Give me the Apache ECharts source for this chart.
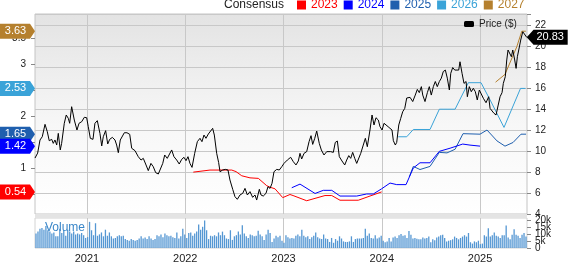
<!DOCTYPE html>
<html>
<head>
<meta charset="utf-8">
<script src="https://cdn.jsdelivr.net/npm/echarts@6.0.0/dist/echarts.min.js"></script>
<style>html,body{margin:0;padding:0;background:#fff;}#c{width:568px;height:264px;}</style>
</head>
<body>
<div id="c"></div>
<script>
// ---- data (x in decimal years) ----
const X_MIN = 2020.471, X_MAX = 2025.478;
const yearTicks = [2021, 2022, 2023, 2024, 2025];
const epsTicks = [0.5, 1, 1.5, 2, 2.5, 3, 3.5];
const volumeTicksA = [0, 10, 20];
const volumeTicksB = [5, 15];

const price = [[2020.471,9.33],[2020.498,9.8],[2020.522,11.05],[2020.545,11.36],[2020.573,12.54],[2020.596,11.84],[2020.616,10.98],[2020.641,11.11],[2020.657,10.73],[2020.674,11.05],[2020.692,10.57],[2020.708,11.68],[2020.728,10.1],[2020.742,10.73],[2020.769,12.64],[2020.789,13.43],[2020.810,13.11],[2020.824,12.64],[2020.844,14.22],[2020.871,12.95],[2020.898,12.0],[2020.919,12.64],[2020.946,12.79],[2020.973,13.21],[2020.997,13.17],[2021.013,12.32],[2021.034,11.21],[2021.061,11.11],[2021.081,12.64],[2021.105,12.89],[2021.132,11.68],[2021.150,10.48],[2021.166,11.36],[2021.190,11.94],[2021.211,10.67],[2021.231,11.11],[2021.258,11.30],[2021.285,11.05],[2021.302,10.57],[2021.319,9.84],[2021.339,11.05],[2021.359,11.11],[2021.380,11.74],[2021.407,11.74],[2021.435,11.59],[2021.455,10.26],[2021.489,10.03],[2021.522,9.46],[2021.550,9.14],[2021.573,9.30],[2021.597,8.76],[2021.624,8.13],[2021.651,8.82],[2021.675,8.50],[2021.699,7.94],[2021.726,7.81],[2021.746,7.71],[2021.771,8.82],[2021.791,9.62],[2021.817,9.30],[2021.862,10.1],[2021.885,9.46],[2021.913,9.14],[2021.939,8.76],[2021.964,9.21],[2021.987,9.40],[2022.008,9.08],[2022.028,9.46],[2022.048,8.82],[2022.069,8.44],[2022.096,9.78],[2022.123,10.89],[2022.150,11.21],[2022.170,10.89],[2022.191,11.52],[2022.211,11.21],[2022.235,11.62],[2022.252,11.43],[2022.279,12.16],[2022.296,11.52],[2022.320,9.78],[2022.340,8.90],[2022.354,8.03],[2022.381,8.19],[2022.408,8.25],[2022.435,8.19],[2022.455,7.24],[2022.483,6.35],[2022.506,5.65],[2022.530,5.40],[2022.557,5.81],[2022.585,5.97],[2022.608,6.44],[2022.632,5.81],[2022.659,6.13],[2022.686,5.59],[2022.710,5.81],[2022.727,5.33],[2022.754,6.35],[2022.771,5.81],[2022.794,5.71],[2022.822,5.97],[2022.842,6.60],[2022.863,6.44],[2022.883,6.92],[2022.903,8.03],[2022.931,8.25],[2022.957,8.19],[2022.982,8.50],[2023.005,8.82],[2023.039,9.14],[2023.073,9.40],[2023.100,8.98],[2023.127,8.67],[2023.151,9.05],[2023.168,9.78],[2023.185,9.24],[2023.209,9.78],[2023.236,9.94],[2023.260,10.89],[2023.280,11.46],[2023.297,10.63],[2023.318,11.21],[2023.338,11.90],[2023.364,10.73],[2023.385,10.1],[2023.412,9.62],[2023.440,9.94],[2023.460,9.84],[2023.480,9.94],[2023.507,9.87],[2023.527,10.82],[2023.548,10.95],[2023.568,9.46],[2023.595,9.05],[2023.623,8.67],[2023.643,9.14],[2023.664,9.56],[2023.684,9.30],[2023.704,9.87],[2023.725,9.30],[2023.745,8.82],[2023.765,8.98],[2023.786,9.78],[2023.812,10.57],[2023.833,11.21],[2023.853,10.41],[2023.880,12.0],[2023.901,13.43],[2023.921,12.48],[2023.941,13.17],[2023.965,12.95],[2023.982,12.32],[2024.003,12.0],[2024.023,12.64],[2024.043,12.48],[2024.064,12.32],[2024.084,12.16],[2024.104,12.0],[2024.118,10.98],[2024.138,10.57],[2024.152,10.82],[2024.173,12.48],[2024.193,13.11],[2024.213,13.74],[2024.234,14.06],[2024.254,15.05],[2024.288,15.11],[2024.315,14.71],[2024.341,15.33],[2024.362,15.87],[2024.382,15.56],[2024.403,16.13],[2024.417,15.33],[2024.440,14.71],[2024.464,15.56],[2024.484,16.13],[2024.504,15.33],[2024.525,16.13],[2024.545,16.62],[2024.565,16.13],[2024.586,16.62],[2024.606,16.94],[2024.626,17.57],[2024.647,17.71],[2024.667,16.94],[2024.688,15.81],[2024.702,17.40],[2024.722,17.95],[2024.743,17.71],[2024.763,17.87],[2024.783,17.71],[2024.796,18.5],[2024.817,17.40],[2024.837,16.44],[2024.858,16.62],[2024.871,15.17],[2024.891,16.13],[2024.911,15.65],[2024.932,15.97],[2024.952,15.65],[2024.972,14.86],[2024.993,15.81],[2025.013,15.65],[2025.034,15.02],[2025.048,15.17],[2025.061,14.6],[2025.074,14.71],[2025.088,15.17],[2025.102,14.06],[2025.122,14.22],[2025.142,13.59],[2025.163,13.43],[2025.183,14.29],[2025.204,15.17],[2025.224,15.56],[2025.237,16.44],[2025.257,17.08],[2025.272,18.67],[2025.285,19.62],[2025.305,19.78],[2025.319,18.98],[2025.333,19.62],[2025.353,18.67],[2025.367,17.87],[2025.380,18.98],[2025.394,19.62],[2025.414,20.57],[2025.435,21.36],[2025.455,21.21],[2025.475,20.83]];

const eps2023 = [[2022.082,0.92],[2022.252,0.96],[2022.473,0.96],[2022.517,0.93],[2022.575,0.85],[2022.659,0.81],[2022.744,0.80],[2022.829,0.66],[2022.863,0.63],[2022.913,0.60],[2022.992,0.43],[2023.066,0.49],[2023.097,0.47],[2023.236,0.37],[2023.422,0.47],[2023.491,0.47],[2023.575,0.38],[2023.761,0.38],[2023.880,0.46],[2023.999,0.54]];
const eps2024 = [[2023.084,0.62],[2023.168,0.69],[2023.321,0.51],[2023.405,0.57],[2023.491,0.57],[2023.575,0.46],[2023.745,0.46],[2023.847,0.50],[2023.914,0.50],[2023.999,0.60],[2024.084,0.71],[2024.152,0.68],[2024.247,0.68],[2024.321,1.0],[2024.389,1.10],[2024.491,1.10],[2024.586,1.32],[2024.695,1.38],[2024.824,1.46],[2024.898,1.44],[2025.0,1.42]];
const eps2025 = [[2024.280,0.83],[2024.321,1.03],[2024.389,0.97],[2024.491,1.03],[2024.586,1.30],[2024.664,1.29],[2024.746,1.36],[2024.827,1.66],[2025.0,1.65],[2025.071,1.73],[2025.173,1.52],[2025.254,1.42],[2025.336,1.49],[2025.417,1.65],[2025.468,1.65]];
const eps2026 = [[2024.168,1.60],[2024.254,1.60],[2024.321,1.74],[2024.491,1.74],[2024.586,2.13],[2024.746,2.13],[2024.881,2.64],[2025.010,2.64],[2025.102,2.31],[2025.244,1.78],[2025.412,2.53],[2025.463,2.53]];
const eps2027 = [[2025.158,2.65],[2025.254,2.80],[2025.374,3.33],[2025.425,3.63],[2025.466,3.63]];

// weekly volume, thousands of shares
const volumeK = [10.5,11.9,13.9,14.5,13.3,16.0,12.9,11.9,10.5,11.3,8.5,8.5,13.9,10.9,12.9,8.9,13.3,11.9,10.5,11.9,9.9,10.5,9.9,10.9,9.3,7.3,7.9,19.0,12.9,9.3,18.0,8.9,9.9,11.3,8.5,13.3,8.9,11.3,8.5,6.9,7.3,8.5,9.3,8.5,8.9,6.5,5.9,5.3,6.5,5.9,5.3,5.9,6.9,8.5,6.9,7.7,6.5,8.5,6.9,5.9,6.5,9.3,8.5,9.9,7.9,10.5,9.3,8.5,8.9,7.9,7.3,11.3,6.9,8.5,13.9,9.9,7.3,10.9,11.3,8.9,10.5,11.9,17.0,
13.3,15.4,20.0,12.9,6.5,8.9,8.5,9.3,8.5,11.3,9.3,11.9,9.3,6.9,6.5,12.9,5.9,8.5,9.3,11.9,9.9,16.6,10.5,8.5,7.3,9.9,9.3,8.5,8.9,12.5,9.9,8.5,5.9,9.9,13.3,10.9,4.4,6.9,8.9,7.9,8.9,5.3,3.8,9.3,7.9,6.9,7.3,6.9,8.9,9.9,8.5,13.3,8.9,7.9,8.5,6.5,7.9,8.9,11.3,7.9,6.9,6.5,9.9,6.9,6.5,4.4,7.3,3.8,6.5,5.3,8.5,6.9,4.8,4.4,4.4,4.8,8.5,4.4,6.5,6.9,6.9,6.9,
7.3,13.9,8.9,10.5,7.3,6.9,9.3,6.9,7.7,
8.9,5.3,4.2,4.8,7.3,4.8,7.7,8.3,7.3,9.3,10.1,8.9,9.3,7.3,12.3,9.7,6.9,7.3,6.7,6.3,6.3,7.7,6.9,7.3,8.3,4.2,6.3,5.7,7.7,8.3,9.3,9.7,7.3,4.8,5.3,5.7,6.3,8.3,7.3,6.3,7.3,8.3,9.3,8.3,10.9,4.2,3.2,4.8,4.2,5.3,2.8,3.2,9.3,8.3,14.3,8.3,9.3,11.3,8.9,8.3,7.3,9.3,9.3,16.4,7.7,6.3,9.7,13.7,9.7,8.9,7.3,9.7,10.9,8.3];

// ---- layout / style ----
const FONT = "'Liberation Sans', Arial, sans-serif";
const G = {left: 35, right: 41, top: 14, h: 200, vTop: 218, vH: 36};
const VOL_MAX = 21.8;
const COLORS = {y2023: '#ff0000', y2024: '#0000ff', y2025: '#1f5fae', y2026: '#3aa3d8', y2027: '#b5802e'};

const volStep = (X_MAX - X_MIN) / volumeK.length;
const volData = volumeK.map((v, i) => [X_MIN + (i + 0.5) * volStep, v]);

function epsSeries(name, data, color, z) {
  const last = data[data.length - 1][1];
  return {
    name: name, type: 'line', xAxisIndex: 0, yAxisIndex: 0, data: data,
    symbol: 'none', showSymbol: false, z: z, animation: false,
    lineStyle: {color: color, width: 1}, itemStyle: {color: color},
    markPoint: {
      silent: true, animation: false,
      symbol: 'path://M0,0L30,0L35,7.5L30,15L0,15Z',
      symbolSize: [35, 15], symbolOffset: [-17.5, 0],
      itemStyle: {color: color},
      label: {show: true, position: 'inside', color: '#fff', fontSize: 11, fontFamily: FONT,
        offset: [-2, 0], formatter: p => Number(p.value).toFixed(2)},
      data: [{coord: [X_MIN, last], value: last}]
    }
  };
}

function volumeAxis(ticks, withTicks) {
  return {type: 'value', gridIndex: 1, position: 'right', min: 0, max: VOL_MAX,
    axisLine: {show: false}, splitLine: {show: false},
    axisTick: {show: withTicks, length: 4, customValues: volumeTicksA.concat(volumeTicksB), lineStyle: {color: '#888'}},
    axisLabel: {customValues: ticks, showMinLabel: true, showMaxLabel: true, hideOverlap: false,
      fontSize: 10, color: '#222', margin: 8, fontFamily: FONT,
      formatter: v => (v === 0 ? '0' : v + 'k')}};
}

const lastPrice = price[price.length - 1];

const chart = echarts.init(document.getElementById('c'), null, {renderer: 'canvas', width: 568, height: 264});
chart.setOption({
  animation: false,
  backgroundColor: '#fff',
  textStyle: {fontFamily: FONT},
  title: [
    {text: 'Consensus', left: 224, top: -1, padding: 0,
      textStyle: {fontSize: 12, fontWeight: 'normal', color: '#222', fontFamily: FONT}},
    {text: 'Volume', left: 45, top: 222, padding: 0, z: 8,
      textStyle: {fontSize: 12, fontWeight: 'normal', color: '#3a86c8', fontFamily: FONT}}
  ],
  legend: [
    {data: [
        {name: '2023', textStyle: {color: COLORS.y2023}},
        {name: '2024', textStyle: {color: COLORS.y2024}},
        {name: '2025', textStyle: {color: COLORS.y2025}},
        {name: '2026', textStyle: {color: COLORS.y2026}},
        {name: '2027', textStyle: {color: COLORS.y2027}}
      ],
      left: 297, top: -1, padding: 0, icon: 'rect', itemWidth: 9, itemHeight: 9, itemGap: 6,
      selectedMode: false, textStyle: {fontSize: 12, fontFamily: FONT}},
    {data: ['Price ($)'], left: 464, top: 19, padding: 0, icon: 'roundRect', itemWidth: 10, itemHeight: 6,
      selectedMode: false, textStyle: {fontSize: 10, color: '#222', fontFamily: FONT}}
  ],
  grid: [
    {left: G.left, right: G.right, top: G.top, height: G.h, show: true, borderColor: '#c4c4c4', borderWidth: 1,
      backgroundColor: {type: 'linear', x: 0, y: 0, x2: 0, y2: 1,
        colorStops: [{offset: 0, color: '#e3e3e3'}, {offset: 0.55, color: '#f7f7f7'}, {offset: 1, color: '#ffffff'}]}},
    {left: G.left, right: G.right, top: G.vTop, height: G.vH, show: true, borderColor: '#d4d4d4', borderWidth: 1,
      backgroundColor: '#ffffff'}
  ],
  graphic: [
    {type: 'rect', silent: true, z: 1,
      shape: {x: G.left, y: G.top + G.h, width: 568 - G.left - G.right, height: G.vTop - G.top - G.h},
      style: {fill: '#e4e4e4'}}
  ],
  xAxis: [
    {type: 'value', gridIndex: 0, min: X_MIN, max: X_MAX,
      axisLine: {show: false}, axisTick: {show: false, customValues: yearTicks},
      axisLabel: {show: false, customValues: yearTicks},
      splitLine: {show: true, lineStyle: {color: '#c8c8c8', width: 1}}},
    {type: 'value', gridIndex: 1, min: X_MIN, max: X_MAX,
      axisLine: {show: false}, axisTick: {show: false, customValues: yearTicks},
      axisLabel: {show: true, customValues: yearTicks, margin: 5, fontSize: 11, color: '#222', fontFamily: FONT,
        formatter: v => String(Math.round(v))},
      splitLine: {show: true, lineStyle: {color: '#c8c8c8', width: 1}}}
  ],
  yAxis: [
    {type: 'value', gridIndex: 0, position: 'left', min: 0.115, max: 3.961,
      axisLine: {show: false}, splitLine: {show: false},
      axisTick: {show: true, length: 4, customValues: epsTicks, lineStyle: {color: '#888'}},
      axisLabel: {customValues: epsTicks, fontSize: 10, color: '#222', margin: 9, fontFamily: FONT}},
    {type: 'value', gridIndex: 0, position: 'right', min: 4, max: 23.05, interval: 2,
      axisLine: {show: false},
      axisTick: {show: true, length: 4, lineStyle: {color: '#888'}},
      axisLabel: {fontSize: 10, color: '#222', margin: 8, fontFamily: FONT, showMinLabel: true,
        formatter: v => (Math.abs(v / 2 - Math.round(v / 2)) < 1e-6 ? String(v) : '')},
      splitLine: {show: true, lineStyle: {color: '#c8c8c8', width: 1}}},
    volumeAxis(volumeTicksA, true),
    volumeAxis(volumeTicksB, false)
  ],
  series: [
    epsSeries('2023', eps2023, COLORS.y2023, 3),
    epsSeries('2025', eps2025, COLORS.y2025, 3),
    epsSeries('2024', eps2024, COLORS.y2024, 4),
    epsSeries('2026', eps2026, COLORS.y2026, 3),
    epsSeries('2027', eps2027, COLORS.y2027, 3),
    {name: 'Price ($)', type: 'line', xAxisIndex: 0, yAxisIndex: 1, data: price,
      symbol: 'none', showSymbol: false, z: 5,
      lineStyle: {color: '#000', width: 1}, itemStyle: {color: '#000'},
      markPoint: {
        silent: true, animation: false,
        symbol: 'path://M0,8L7,0L42,0L42,16L7,16Z',
        symbolSize: [41, 15], symbolOffset: [20.5, 0],
        itemStyle: {color: '#000'},
        label: {show: true, position: 'inside', color: '#fff', fontSize: 11, fontFamily: FONT,
          offset: [3, 0], formatter: p => Number(p.value).toFixed(2)},
        data: [{coord: lastPrice, value: lastPrice[1]}]
      }},
    {name: 'Volume', type: 'bar', xAxisIndex: 1, yAxisIndex: 2, data: volData,
      barWidth: 1.3, itemStyle: {color: '#5597d3'}, z: 2}
  ]
});
</script>
</body>
</html>
